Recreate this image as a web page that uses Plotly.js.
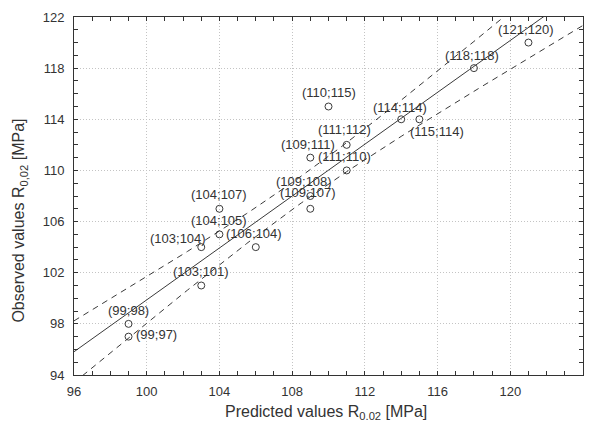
<!DOCTYPE html>
<html>
<head>
<meta charset="utf-8">
<script src="https://cdn.plot.ly/plotly-3.0.1.min.js"></script>
<style>html,body{margin:0;padding:0;background:#fff;}#chart{width:593px;height:433px;}</style>
</head>
<body>
<div id="chart"></div>
<script>
// ---- data ----
var predicted = [99, 99, 103, 103, 104, 104, 106, 109, 109, 109, 110, 111, 111, 114, 115, 118, 121];
var observed  = [98, 97, 101, 104, 105, 107, 104, 108, 107, 111, 115, 112, 110, 114, 114, 118, 120];
var xTickVals = [96, 100, 104, 108, 112, 116, 120, 124];
var yTickVals = [94, 98, 102, 106, 110, 114, 118, 122];
var tCrit = 2.131; // Student t, 95%, df = n-2 = 15

// ---- label placement (style, pixels) ----
var labelDx = [0, 28, 0, -23, 0, 0, -2, -6, -2, -2, 0, -2, -2, -1, 18, -2, -2];
var labelDy = [13, 2, 14, 9, 14, 14, 14, 15, 16, 13, 14, 15, 14, 12, -12, 13, 13];

// ---- least squares fit and 95% confidence band ----
var n = predicted.length;
var mx = predicted.reduce(function(a,b){return a+b;},0)/n;
var my = observed.reduce(function(a,b){return a+b;},0)/n;
var sxx=0, sxy=0, syy=0;
for (var i=0;i<n;i++){ var dx=predicted[i]-mx, dy=observed[i]-my; sxx+=dx*dx; sxy+=dx*dy; syy+=dy*dy; }
var slope = sxy/sxx, icpt = my - slope*mx;
var s = Math.sqrt((syy - slope*sxy)/(n-2));
var fx=[], fy=[], up=[], lo=[];
var x0 = xTickVals[0], x1 = xTickVals[xTickVals.length-1];
for (var k=0;k<=112;k++){
  var xv = x0 + (x1-x0)*k/112;
  var yv = icpt + slope*xv;
  var hw = tCrit*s*Math.sqrt(1/n + (xv-mx)*(xv-mx)/sxx);
  fx.push(xv); fy.push(yv); up.push(yv+hw); lo.push(yv-hw);
}

var lineCol = '#3a3a3a';
var traces = [
  {x: fx, y: up, mode:'lines', line:{color:lineCol, width:1, dash:'6px,5px'}, hoverinfo:'skip'},
  {x: fx, y: lo, mode:'lines', line:{color:lineCol, width:1, dash:'6px,5px'}, hoverinfo:'skip'},
  {x: fx, y: fy, mode:'lines', line:{color:lineCol, width:1}, hoverinfo:'skip'},
  {x: predicted, y: observed, mode:'markers',
   marker:{symbol:'circle-open', size:7, color:lineCol, line:{width:1, color:lineCol}}}
];

var annotations = predicted.map(function(px, i){
  return {x: px, y: observed[i], xref:'x', yref:'y', text:'(' + px + ';' + observed[i] + ')',
    showarrow:false, xshift: labelDx[i], yshift: labelDy[i], xanchor:'center', yanchor:'middle',
    font:{family:'Liberation Sans, Arial, sans-serif', size:13, color:'#333'}};
});
annotations.push({xref:'paper', yref:'paper', x:0.495, y:-0.105, xanchor:'center', yanchor:'middle',
  text:'Predicted values R<sub>0.02</sub> [MPa]',
  showarrow:false, font:{family:'Liberation Sans, Arial, sans-serif', size:16, color:'#333'}});
annotations.push({xref:'paper', yref:'paper', x:-0.107, y:0.43, xanchor:'center', yanchor:'middle', textangle:-90,
  text:'Observed values R<sub>0,02</sub> [MPa]',
  showarrow:false, font:{family:'Liberation Sans, Arial, sans-serif', size:16, color:'#333'}});

var axisCommon = {
  showline:true, linecolor:'#333', linewidth:1, mirror:'allticks',
  ticks:'inside', ticklen:4, tickcolor:'#333', tickwidth:1,
  showgrid:true, gridcolor:'#c4c4c4', griddash:'1px,2px', gridwidth:1,
  zeroline:false, tickmode:'array',
  tickfont:{family:'Liberation Sans, Arial, sans-serif', size:13, color:'#333'},
  minor:{dtick:1, ticks:'inside', ticklen:4, tickcolor:'#333', showgrid:false}
};
var layout = {
  width:593, height:433, showlegend:false,
  paper_bgcolor:'#fff', plot_bgcolor:'#fff',
  margin:{l:74, r:10, t:17, b:58},
  xaxis: Object.assign({}, axisCommon, {range:[x0, x1], tickvals:xTickVals, ticklabelstandoff:4}),
  yaxis: Object.assign({}, axisCommon, {range:[yTickVals[0], yTickVals[yTickVals.length-1]], tickvals:yTickVals, ticklabelstandoff:6}),
  annotations: annotations
};
Plotly.newPlot('chart', traces, layout, {staticPlot:true});
</script>
</body>
</html>
